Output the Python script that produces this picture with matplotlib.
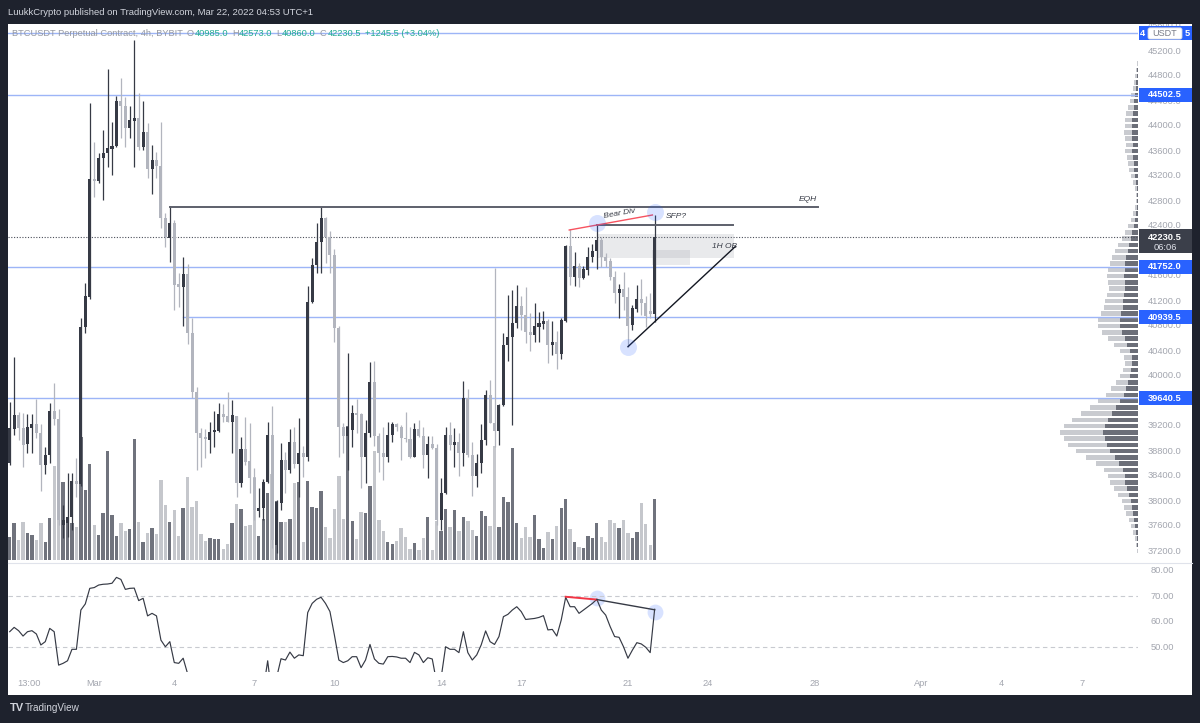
import matplotlib
matplotlib.use("Agg")
import matplotlib.pyplot as plt
import matplotlib.transforms as mtransforms
from matplotlib.patches import Rectangle, FancyBboxPatch
import numpy as np

# ---------------- data (BTCUSDT 4h, Feb 25 20:00 -> Mar 22 00:00) ----------------
opens = [38608, 39152, 39376, 39168, 38912, 39168, 39232, 39088, 38576, 38736,
         39440, 39312, 37616, 37648, 37744, 38320, 38272, 40784, 41264, 43152,
         43120, 43488, 43568, 43632, 43680, 44400, 44320, 43968, 44080, 44128,
         43664, 43904, 43312, 43456, 43360, 42528, 42208, 42448, 41472, 41424,
         41632, 40688, 39744, 39088, 39024, 38976, 39104, 39120, 39392, 39360,
         39264, 39360, 38288, 38832, 38640, 38368, 37840, 37888, 38304, 39056,
         37296, 37968, 38656, 38496, 38944, 38592, 38768, 38704, 41184, 41776,
         42144, 42528, 42224, 41936, 40768, 39184, 39040, 39136, 39408, 39392,
         38704, 39088, 39904, 39040, 38768, 38704, 39056, 39232, 39184, 39008,
         38992, 38704, 39152, 39040, 38736, 38912, 38848, 37696, 38128, 39056,
         38896, 38944, 38768, 39648, 38736, 38400, 38608, 38976, 39696, 39248,
         39120, 39536, 40496, 40624, 40848, 41120, 40976, 40704, 40656, 40784,
         40832, 40880, 40496, 40544, 40352, 40880, 42080, 41584, 41760, 41568,
         41696, 41904, 42000, 42176, 41904, 41840, 41584, 41328, 41392, 41264,
         40816, 41072, 41232, 41168, 41040, 40985]
highs = [39584, 40304, 39424, 39408, 39392, 39392, 39632, 39232, 38864, 39568,
         39888, 39472, 37936, 38448, 38448, 38688, 40928, 41488, 44368, 43744,
         43568, 43936, 44912, 44064, 44480, 44768, 44464, 44320, 45376, 44528,
         44400, 44048, 43696, 43584, 44064, 42608, 42720, 42496, 41648, 41904,
         41792, 40928, 39824, 39168, 39152, 39264, 39440, 39568, 39552, 39744,
         39616, 39360, 39024, 39344, 39248, 38528, 38208, 38352, 39264, 39520,
         38016, 38928, 38784, 39152, 39184, 39328, 38880, 41440, 41888, 42448,
         42704, 42544, 42320, 42032, 40800, 39248, 40368, 39536, 39632, 39408,
         39296, 40224, 40240, 39088, 39184, 39264, 39264, 39248, 39216, 39424,
         39184, 39248, 39296, 39184, 39040, 39040, 38912, 38368, 39184, 39264,
         39168, 39088, 39920, 39792, 38944, 38752, 39232, 39776, 39936, 41728,
         39552, 40688, 41296, 41376, 41456, 41280, 41424, 41008, 41168, 41024,
         41040, 40912, 40880, 40720, 40928, 42096, 42352, 41984, 41808, 41760,
         42064, 42112, 42416, 42224, 41968, 41888, 41680, 41472, 41664, 41424,
         41136, 41456, 41552, 41280, 41328, 42573]
lows = [38576, 39056, 38976, 38544, 38768, 38768, 39008, 38160, 38432, 38608,
        39216, 37616, 37408, 37424, 37536, 38064, 38240, 40688, 41232, 42864,
        43088, 42816, 43344, 43216, 43664, 43808, 43664, 43808, 43344, 43616,
        43616, 43168, 42912, 43168, 42368, 42064, 41824, 41056, 41104, 40800,
        40512, 39648, 38496, 38544, 38688, 38768, 38864, 39104, 39264, 39264,
        38768, 38064, 38224, 38576, 38128, 37696, 37744, 37696, 38288, 37248,
        37168, 37856, 38128, 38448, 38528, 38064, 38384, 38640, 41168, 41648,
        41648, 41808, 41648, 40544, 38704, 38768, 38496, 38864, 39088, 38208,
        38288, 39024, 38880, 38464, 38336, 38624, 38944, 39120, 38656, 38944,
        38688, 38704, 39024, 38528, 38368, 38832, 37616, 37536, 38112, 38816,
        38544, 38400, 38560, 38704, 38080, 38224, 38448, 38896, 39248, 38864,
        38896, 39520, 40240, 39216, 40768, 40736, 40528, 40400, 40544, 40544,
        40752, 40208, 40336, 40112, 40272, 40864, 41456, 41440, 41424, 41552,
        41616, 41824, 41712, 41744, 41744, 41536, 41168, 40928, 41056, 40464,
        40736, 41024, 40976, 40784, 40928, 40860]
closes = [39168, 39376, 39168, 38896, 39184, 39232, 39088, 38576, 38736, 39440,
          39312, 37696, 37696, 37744, 38320, 38272, 40784, 41280, 43152, 43120,
          43488, 43568, 43648, 43680, 44400, 44320, 43968, 44096, 44128, 43664,
          43904, 43312, 43456, 43360, 42528, 42224, 42448, 41456, 41424, 41632,
          40688, 39744, 39088, 39008, 38992, 39104, 39136, 39392, 39344, 39264,
          39376, 38288, 38832, 38624, 38368, 37856, 37888, 38304, 39056, 37376,
          37984, 38656, 38496, 38944, 38592, 38768, 38704, 41184, 41776, 42144,
          42528, 42224, 41936, 40768, 39184, 39040, 39184, 39408, 39376, 38704,
          39088, 39904, 39040, 38768, 38704, 39056, 39232, 39184, 39008, 38992,
          38704, 39152, 39040, 38736, 38912, 38848, 37696, 38128, 39056, 38896,
          38944, 38768, 39648, 38736, 38400, 38608, 38976, 39696, 39248, 39120,
          39536, 40496, 40624, 40848, 41120, 40976, 40704, 40656, 40800, 40848,
          40880, 40496, 40544, 40352, 40896, 42080, 41584, 41760, 41568, 41712,
          41904, 42000, 42176, 41904, 41840, 41584, 41328, 41392, 41264, 40800,
          41088, 41232, 41168, 40960, 40985, 42230.5]
volume_k = [23, 37, 20, 38, 27, 25, 20, 37, 18, 42,
            94, 66, 78, 40, 37, 33, 123, 70, 96, 35,
            25, 47, 109, 45, 24, 37, 29, 31, 121, 38,
            18, 27, 32, 26, 80, 55, 38, 50, 24, 52,
            83, 53, 59, 26, 19, 22, 21, 21, 11, 16,
            37, 56, 51, 34, 35, 83, 24, 41, 67, 86,
            59, 38, 38, 41, 77, 78, 18, 79, 53, 52,
            69, 33, 22, 51, 84, 41, 134, 39, 21, 48,
            47, 74, 109, 40, 29, 18, 16, 19, 32, 23,
            11, 17, 10, 22, 43, 10, 39, 29, 51, 33,
            50, 29, 43, 39, 30, 24, 49, 44, 34, 114,
            33, 63, 58, 112, 37, 22, 33, 23, 45, 21,
            12, 28, 21, 34, 52, 61, 31, 18, 13, 12,
            24, 22, 37, 23, 18, 40, 37, 32, 40, 27,
            22, 28, 57, 36, 15, 61]
rsi = [56.0, 57.7, 56.4, 54.3, 56.0, 56.4, 55.1, 50.8, 52.1, 57.3,
       56.0, 42.9, 43.6, 44.6, 49.1, 49.1, 64.5, 66.9, 73.0, 73.3,
       74.3, 74.6, 74.7, 75.0, 77.3, 76.5, 72.6, 73.0, 73.1, 68.2,
       69.1, 62.2, 63.2, 62.2, 52.7, 50.1, 52.1, 43.9, 43.6, 45.6,
       39.5, 34.0, 30.0, 30.0, 30.0, 31.0, 31.0, 33.0, 33.0, 32.0,
       33.0, 28.0, 33.0, 32.0, 30.0, 27.0, 27.0, 33.0, 44.6, 30.0,
       38.0, 45.4, 44.9, 48.0, 45.6, 46.9, 46.6, 63.5, 67.1, 68.7,
       69.5, 67.1, 63.9, 54.7, 44.9, 43.9, 44.6, 46.2, 46.2, 41.9,
       44.9, 51.0, 45.3, 43.6, 43.3, 46.2, 46.3, 46.1, 45.6, 45.6,
       43.9, 47.9, 46.9, 43.9, 45.8, 45.3, 36.0, 38.0, 50.1, 49.1,
       49.1, 47.8, 56.0, 47.8, 44.9, 46.9, 50.8, 56.3, 52.1, 51.0,
       54.1, 61.9, 62.8, 64.5, 65.8, 63.9, 60.8, 61.0, 61.2, 61.6,
       62.3, 56.7, 56.9, 54.3, 60.6, 69.5, 65.8, 65.8, 63.2, 64.5,
       65.8, 67.1, 68.7, 64.5, 62.5, 58.0, 54.1, 53.8, 50.1, 45.6,
       48.8, 51.7, 51.2, 49.9, 47.8, 64.8]

# visible-range volume profile (price row -> relative size)
profile_price = [45000, 44900, 44800, 44700, 44600, 44500, 44400, 44300, 44200, 44100,
                 44000, 43900, 43800, 43700, 43600, 43500, 43400, 43300, 43200, 43100,
                 43000, 42900, 42800, 42700, 42600, 42500, 42400, 42300, 42200, 42100,
                 42000, 41900, 41800, 41700, 41600, 41500, 41400, 41300, 41200, 41100,
                 41000, 40900, 40800, 40700, 40600, 40500, 40400, 40300, 40200, 40100,
                 40000, 39900, 39800, 39700, 39600, 39500, 39400, 39300, 39200, 39100,
                 39000, 38900, 38800, 38700, 38600, 38500, 38400, 38300, 38200, 38100,
                 38000, 37900, 37800, 37700, 37600, 37500, 37400, 37300, 37200, 37100]
profile_size = [1, 2, 3, 4, 5, 7, 8, 10, 12, 13,
                13, 14, 13, 12, 13, 11, 10, 9, 7, 5,
                3, 2, 2, 3, 5, 7, 10, 13, 16, 20,
                23, 26, 28, 30, 31, 30, 29, 31, 33, 34,
                37, 40, 40, 36, 30, 24, 18, 14, 13, 15,
                18, 22, 27, 32, 40, 48, 57, 66, 74, 78,
                74, 70, 62, 52, 42, 34, 30, 28, 24, 20,
                16, 14, 12, 9, 7, 5, 3, 2, 1, 0.5]
profile_up_share = 0.45

level_prices = [45480.5, 44502.5, 41752.0, 40939.5, 39640.5]
level_labels = ["45480.5", "44502.5", "41752.0", "40939.5", "39640.5"]
level_start = [None, None, None, 39, None]
last_price = 42230.5
countdown = "06:06"
# tick labels that are not fully covered by a label box
price_ticks = [45600, 45200, 44800, 44400, 44000, 43600, 43200, 42800, 42400, 41600,
               41200, 40800, 40400, 40000, 39200, 38800, 38400, 38000, 37600, 37200]
rsi_ticks = [80, 70, 60, 50]
time_labels = ['13:00', 'Mar', '4', '7', '10', '14', '17', '21', '24', '28', 'Apr', '4', '7']
time_label_idx = [4.25, 19, 37, 55, 73, 97, 115, 139, 157, 181, 205, 223, 241]
legend_title = 'BTCUSDT Perpetual Contract, 4h, BYBIT'
legend_ohlc = [('O', '40985.0'), ('H', '42573.0'), ('L', '40860.0'), ('C', '42230.5')]
legend_change = '+1245.5 (+3.04%)'

# drawings
eqh_price, eqh_from, eqh_to = 42709, 36, 181.8
sfp_price, sfp_from, sfp_to = 42416, 132, 162.7
bear_div_price = ((125.8, 42336), (144.5, 42576))
trend_line = ((139.0, 40469), (163.1, 42069))
ob_box_1 = (132.3, 162.9, 41896, 42267)
ob_box_2 = (144.4, 152.9, 41776, 42016)
price_circles = [(132, 42443), (145, 42629), (139.0, 40469)]
rsi_red = ((125, 69.7), (132, 68.6))
rsi_black = ((132, 68.6), (145, 64.6))
rsi_circles = [(132, 69.2), (145, 63.8)]

# ---------------- styling ----------------
W, H = 1200, 723
BG = '#1e222d'
UP, DN = '#363a45', '#b2b5be'
VUP, VDN = '#70737d', '#c5c7cc'
BLUE = '#2962ff'
TXT = '#a3a6af'
FONT = 'Liberation Sans'
plt.rcParams['font.family'] = [FONT, 'DejaVu Sans']

fig = plt.figure(figsize=(W / 100, H / 100), dpi=100)
fig.patch.set_facecolor(BG)
renderer = fig.canvas.get_renderer()


def axes_px(x0, y0, x1, y1, z=1):
    a = fig.add_axes([x0 / W, 1 - y1 / H, (x1 - x0) / W, (y1 - y0) / H])
    a.set_axis_off()
    a.patch.set_visible(False)
    a.set_zorder(z)
    return a


fig.add_artist(Rectangle((8 / W, 1 - 695 / H), 1184 / W, 671 / H, transform=fig.transFigure,
                         facecolor='white', edgecolor='none', zorder=-5))

XMIN, XMAX = -0.382, 253.67
PMIN, PMAX = 37024, 45632
n = len(opens)
idx = np.arange(n)
o, h, l, c = (np.array(v, dtype=float) for v in (opens, highs, lows, closes))
up = c >= o

# volume
axv = axes_px(8, 24, 1138, 562, z=1)
axv.set_xlim(XMIN, XMAX)
axv.set_ylim(-2, 536)
axv.bar(idx, volume_k, width=0.75, color=np.where(up, VUP, VDN), linewidth=0)

# volume profile
axp = axes_px(1000, 24, 1138, 562, z=1)
axp.set_xlim(138, 0)
axp.set_ylim(PMIN, PMAX)
ps = np.array(profile_size, dtype=float)
axp.barh(profile_price, ps * profile_up_share, left=0, height=72, color='#6b6e78', linewidth=0)
axp.barh(profile_price, ps * (1 - profile_up_share), left=ps * profile_up_share, height=72,
         color='#c9cbd0', linewidth=0)

# main price pane
ax = axes_px(8, 24, 1138, 562, z=2)
ax.set_xlim(XMIN, XMAX)
ax.set_ylim(PMIN, PMAX)

for p, s in zip(level_prices, level_start):
    x0 = XMIN if s is None else s
    ax.plot([x0, XMAX], [p, p], color='#9db5f7', lw=1.0, zorder=1)
ax.plot([XMIN, XMAX], [last_price, last_price], color='#4a4e59', lw=0.8,
        linestyle=(0, (1, 1.5)), zorder=1)

for (a0, a1, b0, b1) in (ob_box_1, ob_box_2):
    ax.add_patch(Rectangle((a0, b0), a1 - a0, b1 - b0, facecolor='#9598a1', alpha=0.2,
                           edgecolor='none', zorder=1))

cols = np.where(up, UP, DN)
ax.vlines(idx, l, h, colors=cols, lw=0.9, zorder=3)
body_lo = np.minimum(o, c)
body_h = np.maximum(np.abs(c - o), 16)
ax.bar(idx, body_h, bottom=body_lo, width=0.68, color=cols, linewidth=0, zorder=4)

ax.plot([eqh_from, eqh_to], [eqh_price, eqh_price], color='#5d606b', lw=1.4, zorder=5)
ax.text(179.5, 42830, 'EQH', fontsize=6, style='italic', color='#363a45', ha='center', va='center')
ax.plot([sfp_from, sfp_to], [sfp_price, sfp_price], color='#5d606b', lw=1.4, zorder=5)
ax.plot(*zip(*bear_div_price), color='#f7525f', lw=1.0, zorder=5)
ax.text(137.0, 42600, 'Bear Div', fontsize=6, style='italic', color='#363a45', rotation=10,
        ha='center', va='center')
ax.text(147.5, 42544, 'SFP?', fontsize=6, style='italic', color='#363a45', ha='left', va='center')
ax.text(160.8, 42069, '1H OB', fontsize=6, style='italic', color='#363a45', ha='center', va='center')
ax.plot(*zip(*trend_line), color='#131722', lw=1.0, zorder=5)
for (ci, cp) in price_circles:
    ax.scatter([ci], [cp], s=150, color=BLUE, alpha=0.18, linewidths=0, zorder=6)

# price scale
axs = axes_px(1138, 24, 1192, 562, z=3)
axs.set_xlim(0, 54)
axs.set_ylim(PMIN, PMAX)
for p in price_ticks:
    axs.text(27, p, f"{p:.1f}", fontsize=6.7, color=TXT, ha='center', va='center', clip_on=True)
for p, lab in zip(level_prices[1:], level_labels[1:]):
    axs.add_patch(Rectangle((0.5, p - 112), 53.5, 224, facecolor=BLUE, edgecolor='none', zorder=3))
    axs.text(27, p, lab, fontsize=6.7, color='white', ha='center', va='center', zorder=4,
             fontweight='bold', clip_on=True)
# top level label: partly covered by the currency tag
p0 = level_prices[0]
axs.add_patch(Rectangle((0.5, p0 - 112), 53.5, 224, facecolor=BLUE, edgecolor='none', zorder=3))
axs.text(4.5, p0, level_labels[0][0], fontsize=6.7, color='white', ha='center', va='center',
         zorder=4, fontweight='bold')
axs.text(49.0, p0, level_labels[0][-1], fontsize=6.7, color='white', ha='center', va='center',
         zorder=4, fontweight='bold')
axs.add_patch(FancyBboxPatch((10.0, p0 - 90), 34, 180,
                             boxstyle='round,pad=0,rounding_size=2', facecolor='white',
                             edgecolor='#d1d4dc', lw=0.6, zorder=5, mutation_aspect=16))
axs.text(27, p0, 'USDT', fontsize=6.5, color='#787b86', ha='center', va='center', zorder=6)
axs.add_patch(Rectangle((0.5, 41968), 53.5, 384, facecolor='#3b3f4a', edgecolor='none', zorder=3))
axs.text(27, 42224, f"{last_price:.1f}", fontsize=6.7, color='white', ha='center', va='center',
         zorder=4, fontweight='bold')
axs.text(27, 42064, countdown, fontsize=6.7, color='#e0e3eb', ha='center', va='center', zorder=4)

# pane separator
fig.add_artist(plt.Line2D([8 / W, 1192 / W], [1 - 562.5 / H] * 2, color='#e0e3eb', lw=0.8,
                          transform=fig.transFigure, zorder=-1))

# RSI pane
RMIN, RMAX = 40.2, 82.94
axr = axes_px(8, 563, 1138, 672, z=2)
axr.set_xlim(XMIN, XMAX)
axr.set_ylim(RMIN, RMAX)
for lv in (70, 50):
    axr.plot([XMIN, XMAX], [lv, lv], color='#c8cad0', lw=0.8, linestyle=(0, (4, 3)))
axr.plot(idx, rsi, color='#363a45', lw=0.85)
axr.plot(*zip(*rsi_red), color='#f23645', lw=1.4)
axr.plot(*zip(*rsi_black), color='#363a45', lw=1.0)
for (ci, cv) in rsi_circles:
    axr.scatter([ci], [cv], s=130, color=BLUE, alpha=0.18, linewidths=0)
trans = mtransforms.blended_transform_factory(axr.transData, axr.transAxes)
for lab, xi in zip(time_labels, time_label_idx):
    axr.text(xi, -0.11, lab, transform=trans, fontsize=6.7, color=TXT, ha='center', va='center',
             clip_on=False)

axrs = axes_px(1138, 563, 1192, 672, z=3)
axrs.set_xlim(0, 54)
axrs.set_ylim(RMIN, RMAX)
for v in rsi_ticks:
    axrs.text(24, v, f"{v:.2f}", fontsize=6.7, color=TXT, ha='center', va='center')

# header / footer
fig.text(8 / W, 1 - 12.5 / H, 'LuukkCrypto published on TradingView.com, Mar 22, 2022 04:53 UTC+1',
         fontsize=6.8, color='#d1d4dc', ha='left', va='center')

legend_y = 1 - 33 / H
GRAY_L, TEAL = '#9598a1', '#22ab94'
pieces = [(legend_title, GRAY_L, 4)]
for letter, val in legend_ohlc:
    pieces.append((letter, GRAY_L, 0.5))
    pieces.append((val, TEAL, 4))
pieces.append((legend_change, TEAL, 0))


def run_width(fs):
    tot = 0
    for s, col, gap in pieces:
        t = fig.text(0, 0, s, fontsize=fs)
        tot += t.get_window_extent(renderer).width + gap
        t.remove()
    return tot


fs0 = 6.4
fs = fs0 * (430 - 14) / (run_width(fs0) - 14)
xcur = 12
for s, col, gap in pieces:
    t = fig.text(xcur / W, legend_y, s, fontsize=fs, color=col, ha='left', va='center', zorder=10)
    xcur += t.get_window_extent(renderer).width + gap

fig.text(10 / W, 1 - 708 / H, 'TV', fontsize=8, fontweight='bold', color='#d1d4dc', ha='left', va='center')
fig.text(25 / W, 1 - 708 / H, 'TradingView', fontsize=7.2, color='#d1d4dc', ha='left', va='center')

fig.savefig('out.png', dpi=100, facecolor=BG)
